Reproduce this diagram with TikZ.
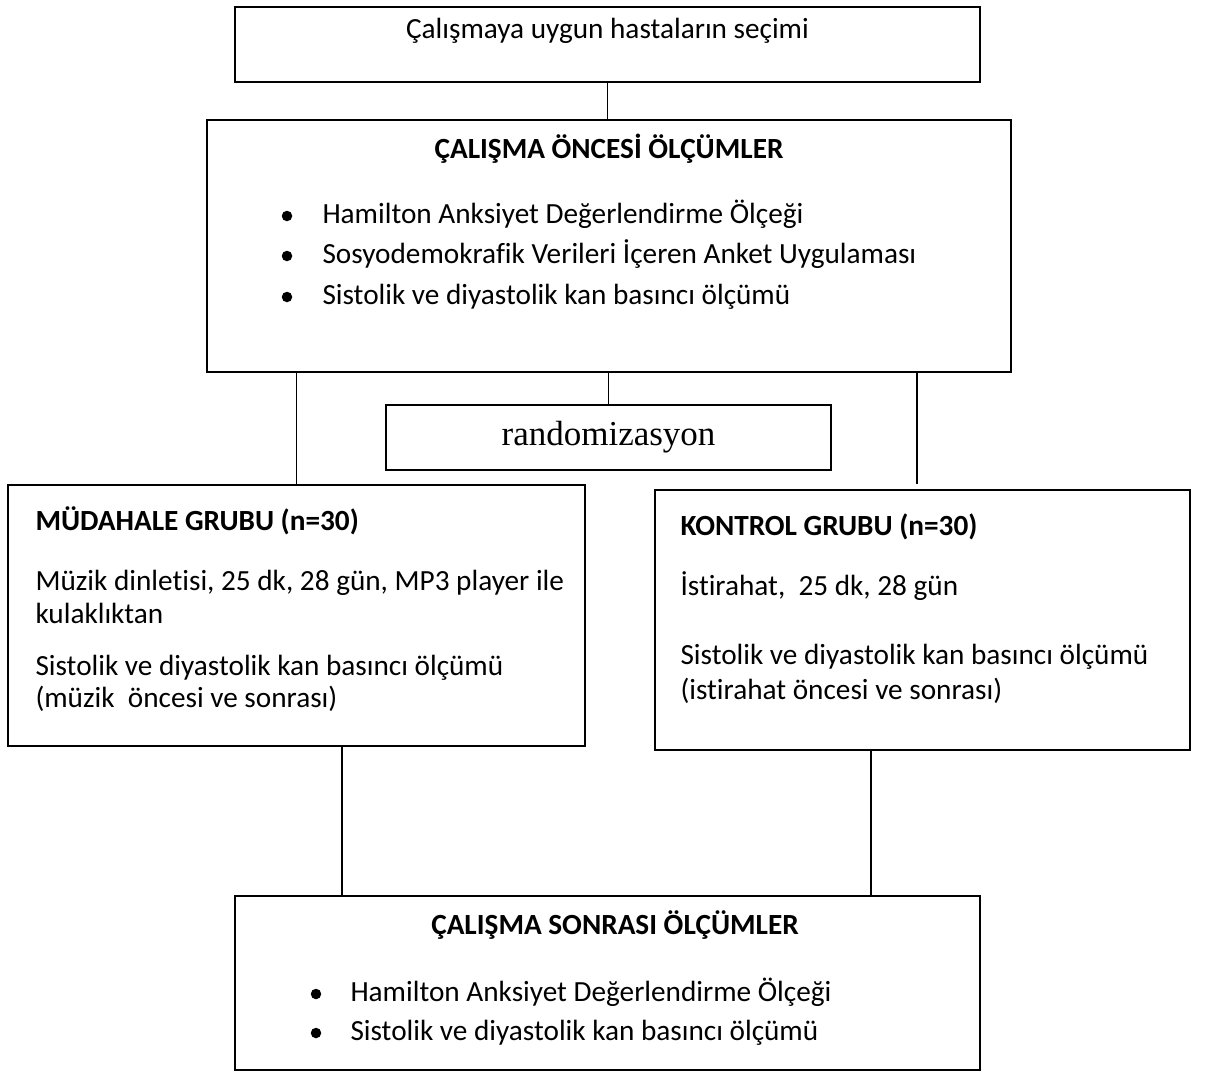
\documentclass[tikz,border=0pt]{standalone}
\usepackage{fontspec}
\setmainfont{Carlito}[Ligatures={NoCommon}]
\newfontfamily\timesyazi{Liberation Serif}

\begin{document}
\begin{tikzpicture}[x=0.4pt, y=-0.4pt,
	kutu/.style={draw, line width=0.9pt, inner sep=0pt},
	bag/.style={line width=0.6pt},
	yazi/.style={inner sep=0pt, font=\fontsize{11.7}{14}\selectfont, text height=1.6ex, text depth=.4ex},
	baslik/.style={yazi, font=\fontsize{11.7}{14}\selectfont\bfseries}]
	\useasboundingbox (0,0) rectangle (1210,1073);
	% kutular
	\node[kutu, minimum width=298pt, minimum height=30pt] (secim) at (607.5,44.5) {};
	\node[kutu, minimum width=321.6pt, minimum height=100.8pt] (oncesi) at (609,246) {};
	\node[kutu, minimum width=178pt, minimum height=26pt] (rastgele) at (608.5,437.5) {};
	\node[kutu, minimum width=230.8pt, minimum height=104.4pt] (mudahale) at (296.5,615.5) {};
	\node[kutu, minimum width=214pt, minimum height=104pt] (kontrol) at (922.5,620) {};
	\node[kutu, minimum width=298pt, minimum height=69.6pt] (sonrasi) at (607.5,983) {};

	% baglantilar
	\draw[bag] (secim.south) -- (secim.south |- oncesi.north);
	\draw[bag] (rastgele.north) -- (rastgele.north |- oncesi.south);
	\draw[bag] (mudahale.north) -- (mudahale.north |- oncesi.south);
	\draw[bag] ([xshift=-2.2pt,yshift=2pt]kontrol.north) -- ([xshift=-2.2pt]kontrol.north |- oncesi.south);
	\draw[bag] ([xshift=18.2pt]mudahale.south) -- ([xshift=18.2pt]mudahale.south |- sonrasi.north);
	\draw[bag] ([xshift=-20.6pt]kontrol.south) -- ([xshift=-20.6pt]kontrol.south |- sonrasi.north);

	% yazilar
	\node[yazi] (secim-y) at (607.5,31) {Çalışmaya uygun hastaların seçimi};
	\node[baslik] (oncesi-y) at (609,151) {ÇALIŞMA ÖNCESİ ÖLÇÜMLER};
	\foreach \y/\metin [count=\i] in {216/Hamilton Anksiyet Değerlendirme Ölçeği,
		256/Sosyodemokrafik Verileri İçeren Anket Uygulaması,
		297/Sistolik ve diyastolik kan basıncı ölçümü}{
		\fill (287,\y) circle [radius=2.1pt];
		\node[yazi, anchor=west] (oncesi-\i) at (322,\y) {\metin};
	}
	\node[inner sep=0pt, font=\timesyazi\fontsize{14}{16}\selectfont] (rastgele-y) at (608.5,437) {randomizasyon};

	\node[baslik, anchor=west] (mudahale-y) at (35,523) {MÜDAHALE GRUBU (n=30)};
	\node[yazi, anchor=west] (mudahale-1) at (35,583) {Müzik dinletisi, 25 dk, 28 gün, MP3 player ile};
	\node[yazi, anchor=west] (mudahale-2) at (35,616) {kulaklıktan};
	\node[yazi, anchor=west] (mudahale-3) at (35,668) {Sistolik ve diyastolik kan basıncı ölçümü};
	\node[yazi, anchor=west] (mudahale-4) at (35,700) {(müzik\ \ öncesi ve sonrası)};

	\node[baslik, anchor=west] (kontrol-y) at (680,528) {KONTROL GRUBU (n=30)};
	\node[yazi, anchor=west] (kontrol-1) at (680,588) {İstirahat,\ \ 25 dk, 28 gün};
	\node[yazi, anchor=west] (kontrol-2) at (680,657) {Sistolik ve diyastolik kan basıncı ölçümü};
	\node[yazi, anchor=west] (kontrol-3) at (680,692) {(istirahat öncesi ve sonrası)};

	\node[baslik] (sonrasi-y) at (615,927) {ÇALIŞMA SONRASI ÖLÇÜMLER};
	\foreach \y/\metin [count=\i] in {994/Hamilton Anksiyet Değerlendirme Ölçeği,
		1033/Sistolik ve diyastolik kan basıncı ölçümü}{
		\fill (316,\y) circle [radius=2.1pt];
		\node[yazi, anchor=west] (sonrasi-\i) at (350,\y) {\metin};
	}
\end{tikzpicture}
\end{document}
